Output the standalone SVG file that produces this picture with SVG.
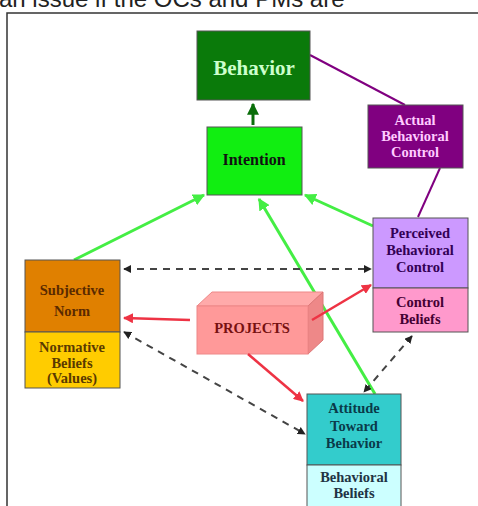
<svg xmlns="http://www.w3.org/2000/svg" width="478" height="506" viewBox="0 0 478 506">
<defs>
<style>
.t{font-family:"Liberation Serif","Times New Roman",serif;font-weight:bold;text-anchor:middle;font-size:14.5px}
.box{stroke:#555;stroke-width:1}
.g{stroke:#44ee44;stroke-width:3;fill:none}
.r{stroke:#ee3344;stroke-width:2.5;fill:none}
.d{stroke:#444;stroke-width:2;stroke-dasharray:7,6;fill:none}
.p{stroke:#800080;stroke-width:2;fill:none}
</style>
<marker id="ag" viewBox="0 0 10 10" refX="9" refY="5" markerWidth="4" markerHeight="4" orient="auto"><path d="M0,0L10,5L0,10z" fill="#44ee44"/></marker>
<marker id="adg" viewBox="0 0 10 10" refX="9" refY="5" markerWidth="4" markerHeight="4" orient="auto"><path d="M0,0L10,5L0,10z" fill="#0a6e0a"/></marker>
<marker id="ar" viewBox="0 0 10 10" refX="9" refY="5" markerWidth="4" markerHeight="4" orient="auto"><path d="M0,0L10,5L0,10z" fill="#ee3344"/></marker>
<marker id="ad" viewBox="0 0 10 10" refX="9" refY="5" markerWidth="4" markerHeight="4" orient="auto-start-reverse"><path d="M0,0L10,5L0,10z" fill="#222"/></marker>
</defs>
<rect width="478" height="506" fill="#fff"/>
<text x="-1" y="7" font-family="Liberation Sans, Arial, sans-serif" font-size="24" fill="#222">an issue if the OCs and PMs are</text>
<path d="M7,506V13H478" fill="none" stroke="#333" stroke-width="1.5"/>

<g id="connectors">
<path class="p" d="M310,55L405,105"/>
<path class="p" d="M440,168L418,217"/>
<path d="M253,125V104" stroke="#0a6e0a" stroke-width="3" fill="none" marker-end="url(#adg)"/>
<path class="g" d="M74,260L204,195" marker-end="url(#ag)"/>
<path class="g" d="M373,226L305,195" marker-end="url(#ag)"/>
<path class="g" d="M375,394L259,199" marker-end="url(#ag)"/>
<path class="d" d="M124,269H371" marker-start="url(#ad)" marker-end="url(#ad)"/>
<path class="d" d="M124,332L305,434" marker-start="url(#ad)" marker-end="url(#ad)"/>
<path class="d" d="M412,336L364,392" marker-start="url(#ad)" marker-end="url(#ad)"/>
</g>

<g id="behavior">
<rect class="box" x="197" y="31" width="113" height="69" fill="#0a7a0a" stroke="#075a07"/>
<text class="t" x="254" y="75" style="font-size:21px" fill="#ccffcc">Behavior</text>
</g>

<g id="intention">
<rect class="box" x="207" y="127" width="95" height="68" fill="#11ee11"/>
<text class="t" x="254" y="165" style="font-size:16px" fill="#111">Intention</text>
</g>

<g id="actual-behavioral-control">
<rect class="box" x="368" y="105" width="95" height="63" fill="#800080"/>
<text class="t" fill="#ffccff"><tspan x="415" y="125">Actual</tspan><tspan x="415" y="141">Behavioral</tspan><tspan x="415" y="157">Control</tspan></text>
</g>

<g id="perceived-behavioral-control">
<rect class="box" x="373" y="218" width="95" height="70" fill="#cc99ff"/>
<rect class="box" x="373" y="288" width="95" height="44" fill="#ff99cc"/>
<text class="t" fill="#330055"><tspan x="420" y="238">Perceived</tspan><tspan x="420" y="255">Behavioral</tspan><tspan x="420" y="272">Control</tspan></text>
<text class="t" fill="#440033"><tspan x="420" y="307">Control</tspan><tspan x="420" y="324">Beliefs</tspan></text>
</g>

<g id="subjective-norm">
<rect class="box" x="25" y="260" width="95" height="72" fill="#e08000"/>
<rect class="box" x="25" y="332" width="95" height="56" fill="#ffcc00"/>
<text class="t" fill="#5a2a00"><tspan x="72" y="295">Subjective</tspan><tspan x="72" y="316">Norm</tspan></text>
<text class="t" fill="#5a3a00"><tspan x="72" y="352">Normative</tspan><tspan x="72" y="368">Beliefs</tspan><tspan x="72" y="383">(Values)</tspan></text>
</g>

<g id="projects">
<path d="M197,306L212,292H323L308,306Z" fill="#ffaaaa" stroke="#ee8888" stroke-width="1"/>
<path d="M308,306L323,292V340L308,354Z" fill="#ee8888" stroke="#dd7777" stroke-width="1"/>
<rect x="197" y="306" width="111" height="48" fill="#ff9999" stroke="#ee8888" stroke-width="1"/>
<text class="t" x="252" y="333" fill="#771111">PROJECTS</text>
</g>

<g id="attitude">
<rect class="box" x="307" y="394" width="94" height="71" fill="#33cccc"/>
<rect class="box" x="307" y="465" width="94" height="42" fill="#ccffff"/>
<text class="t" fill="#0a3a4a"><tspan x="354" y="413">Attitude</tspan><tspan x="354" y="431">Toward</tspan><tspan x="354" y="448">Behavior</tspan></text>
<text class="t" fill="#223344"><tspan x="354" y="482">Behavioral</tspan><tspan x="354" y="498">Beliefs</tspan></text>
</g>

<g id="red-connectors">
<path class="r" d="M190,320L124,318" marker-end="url(#ar)"/>
<path class="r" d="M312,320L371,285" marker-end="url(#ar)"/>
<path class="r" d="M248,354L303,401" marker-end="url(#ar)"/>
</g>
</svg>
